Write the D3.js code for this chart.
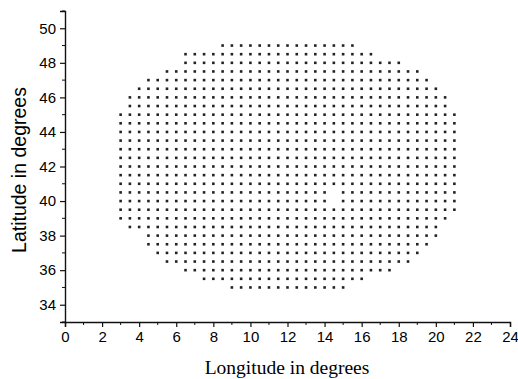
<!DOCTYPE html>
<html>
<head>
<meta charset="utf-8">
<script src="https://d3js.org/d3.v7.min.js"></script>
<style>
  body { margin: 0; background: #fff; }
</style>
</head>
<body>
<div id="myScatter"></div>
<script>
// grid rows (0.5 degree spacing)
var lats = [49.0, 48.5, 48.0, 47.5, 47.0, 46.5, 46.0, 45.5, 45.0, 44.5, 44.0, 43.5, 43.0, 42.5,
            42.0, 41.5, 41.0, 40.5, 40.0, 39.5, 39.0, 38.5, 38.0, 37.5, 37.0, 36.5, 36.0, 35.5, 35.0];
var rowStart = [8.5, 6.5, 6.5, 5.5, 4.5, 4.0, 3.5, 3.5, 3.0, 3.0, 3.0, 3.0, 3.0, 3.0,
                3.0, 3.0, 3.0, 3.0, 3.0, 3.0, 3.0, 3.5, 4.5, 4.5, 5.0, 5.5, 6.5, 7.5, 9.0];
var rowEnd = [15.5, 16.5, 18.0, 19.0, 19.5, 20.0, 20.5, 20.5, 21.0, 21.0, 21.0, 21.0, 21.0, 21.0,
              21.0, 21.0, 21.0, 21.0, 21.0, 21.0, 20.5, 20.0, 20.0, 19.5, 19.0, 18.5, 17.5, 16.0, 15.0];
var step = 0.5;
// points missing inside the grid
var missing = [[14.5, 40.5], [14.5, 40.0]];

var xTicks = [0, 2, 4, 6, 8, 10, 12, 14, 16, 18, 20, 22, 24];
var yTicks = [34, 36, 38, 40, 42, 44, 46, 48, 50];
var xMinor = [1, 3, 5, 7, 9, 11, 13, 15, 17, 19, 21, 23];
var yMinor = [33, 35, 37, 39, 41, 43, 45, 47, 49, 51];

var width = 518, height = 379;

var svg = d3.select("#myScatter")
  .append("svg")
    .attr("width", width)
    .attr("height", height);

var x = d3.scaleLinear()
  .domain([0, 24])
  .range([65, 510]);

var y = d3.scaleLinear()
  .domain([33, 51])
  .range([322, 11]);

// build the point list from the rows
var points = [];
lats.forEach(function(lat, i) {
  for (var lon = rowStart[i]; lon <= rowEnd[i] + 1e-6; lon += step) {
    var skip = missing.some(function(m) { return Math.abs(m[0] - lon) < 1e-6 && m[1] === lat; });
    if (!skip) points.push({lon: lon, lat: lat});
  }
});

svg.append("g")
  .selectAll("rect")
  .data(points)
  .enter()
  .append("rect")
    .attr("x", function(d) { return x(d.lon) - 1.3; })
    .attr("y", function(d) { return y(d.lat) - 1.3; })
    .attr("width", 2.6)
    .attr("height", 2.6)
    .style("fill", "#222");

// X axis
var xAxis = svg.append("g")
  .attr("transform", "translate(0," + y(33) + ")")
  .call(d3.axisBottom(x).tickValues(xTicks).tickSize(5).tickPadding(4).tickFormat(d3.format("d")));
xAxis.append("g")
  .selectAll("line")
  .data(xMinor)
  .enter()
  .append("line")
    .attr("x1", function(d) { return x(d); })
    .attr("x2", function(d) { return x(d); })
    .attr("y1", 0)
    .attr("y2", 3)
    .attr("stroke", "#111");

// Y axis
var yAxis = svg.append("g")
  .attr("transform", "translate(" + x(0) + ",0)")
  .call(d3.axisLeft(y).tickValues(yTicks).tickSize(5).tickPadding(4).tickFormat(d3.format("d")));
yAxis.append("g")
  .selectAll("line")
  .data(yMinor)
  .enter()
  .append("line")
    .attr("y1", function(d) { return y(d); })
    .attr("y2", function(d) { return y(d); })
    .attr("x1", 0)
    .attr("x2", -3)
    .attr("stroke", "#111");

svg.selectAll(".domain")
  .attr("stroke", "#111")
  .attr("stroke-width", 1.4);
svg.selectAll(".tick line")
  .attr("stroke", "#111")
  .attr("stroke-width", 1.2);
svg.selectAll(".tick text")
  .attr("fill", "#000")
  .style("font-family", "'Liberation Sans', Arial, sans-serif")
  .style("font-size", "15px");

// axis titles
svg.append("text")
  .attr("x", 287)
  .attr("y", 374)
  .attr("text-anchor", "middle")
  .style("font-family", "'Liberation Serif', 'Times New Roman', serif")
  .style("font-size", "19.5px")
  .attr("fill", "#000")
  .text("Longitude in degrees");

svg.append("text")
  .attr("transform", "translate(26,170) rotate(-90)")
  .attr("text-anchor", "middle")
  .style("font-family", "'Liberation Sans', Arial, sans-serif")
  .style("font-size", "19.5px")
  .attr("fill", "#000")
  .text("Latitude in degrees");
</script>
</body>
</html>
